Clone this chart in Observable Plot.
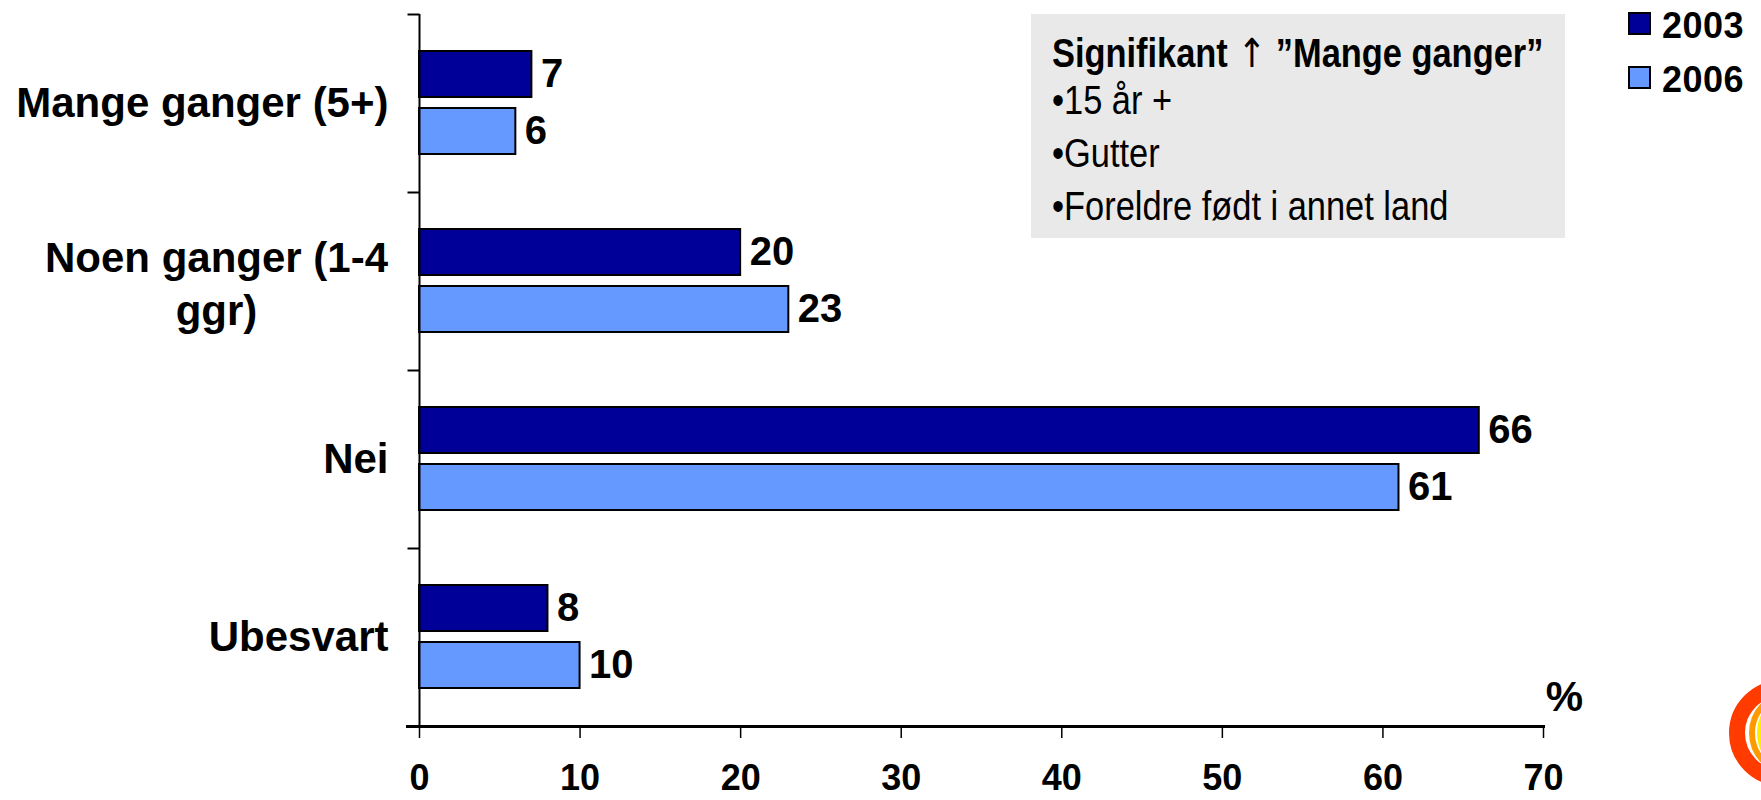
<!DOCTYPE html>
<html>
<head>
<meta charset="utf-8">
<script src="https://cdn.jsdelivr.net/npm/d3@7"></script>
<script src="https://cdn.jsdelivr.net/npm/@observablehq/plot@0.6"></script>
<style>
  html, body { margin: 0; padding: 0; background: white; }
  #wrap { position: relative; width: 1761px; height: 800px; overflow: hidden; font-family: "Liberation Sans", Arial, sans-serif; }
  #note { position: absolute; left: 1031px; top: 14px; width: 534px; height: 224px; background: #e9e9e9; }
  #note .line { position: absolute; left: 21px; font-size: 40px; line-height: 1; white-space: nowrap; transform: scaleX(0.86); transform-origin: 0 0; color: #000; }
  #note .title { font-weight: bold; }
  #note .arrow { font-weight: normal; font-family: "DejaVu Sans", sans-serif; font-size: 40px; }
  #legend { position: absolute; left: 1628px; top: 12px; }
  #legend .item { position: absolute; left: 0; white-space: nowrap; }
  #legend .sw { position: absolute; left: 0; width: 23px; height: 23px; box-sizing: border-box; border: 2px solid #000; }
  #legend .lab { position: absolute; left: 34px; font-size: 36px; font-weight: bold; letter-spacing: 0.5px; line-height: 1; }
  #logo { position: absolute; left: 1700px; top: 660px; }
</style>
</head>
<body>
<div id="wrap"></div>
<script>
// ---------- data ----------
const categories = ["Mange ganger (5+)", "Noen ganger (1-4 ggr)", "Nei", "Ubesvart"];
const categoryLabels = ["Mange ganger (5+)", "Noen ganger (1-4\nggr)", "Nei", "Ubesvart"];
const years = ["2003", "2006"];
const values2003 = [7, 20, 66, 8];
const values2006 = [6, 23, 61, 10];
const xTicks = [0, 10, 20, 30, 40, 50, 60, 70];
const yearColors = ["#000099", "#6699ff"];
const noteTitle = "Signifikant";
const noteArrow = "↑";
const noteTitleRest = "”Mange ganger”";
const noteLines = ["•15 år +", "•Gutter", "•Foreldre født i annet land"];
const unitLabel = "%";

// ---------- table ----------
const rows = categories.flatMap((c, i) => [
  {category: c, year: years[0], value: values2003[i]},
  {category: c, year: years[1], value: values2006[i]}
]);
const labelOf = new Map(categories.map((c, i) => [c, categoryLabels[i]]));
const singleLine = categories.filter(c => !labelOf.get(c).includes("\n"));
const multiLine = categories.filter(c => labelOf.get(c).includes("\n"));

// custom tick symbol: a short horizontal stroke to the left of the anchor
const tickLeft = {
  draw(context, size) {
    const r = Math.sqrt(size / Math.PI);
    context.moveTo(-r, 0);
    context.lineTo(0, 0);
  }
};

const chart = Plot.plot({
  width: 1761,
  height: 800,
  marginLeft: 419,
  marginRight: 218,
  marginTop: 12,
  marginBottom: 73,
  x: {domain: [0, 70], axis: null},
  y: {domain: years, paddingInner: 0.19, paddingOuter: 0.63, axis: null},
  fy: {domain: categories, padding: 0, axis: null},
  color: {domain: years, range: yearColors},
  style: {fontFamily: "Liberation Sans, Arial, sans-serif", color: "black", background: "white", overflow: "visible"},
  marks: [
    Plot.barX(rows, {x: "value", y: "year", fy: "category", fill: "year", stroke: "black", strokeWidth: 2}),
    Plot.ruleX([0], {stroke: "black", strokeWidth: 2}),
    Plot.dot([0], {frameAnchor: "top-left", symbol: tickLeft, r: 12, stroke: "black", strokeWidth: 2, fill: "none"}),
    Plot.text(rows, {x: "value", y: "year", fy: "category", text: d => String(d.value),
      textAnchor: "start", dx: 9, fontSize: 40, fontWeight: "bold", fill: "black"}),
    Plot.text(singleLine, {fy: d => d, text: d => labelOf.get(d), frameAnchor: "left",
      textAnchor: "end", dx: -31, fontSize: 42, fontWeight: "bold", fill: "black"}),
    Plot.text(multiLine, {fy: d => d, text: d => labelOf.get(d), frameAnchor: "left",
      textAnchor: "middle", dx: -203, lineHeight: 1.25, fontSize: 42, fontWeight: "bold", fill: "black"}),
    Plot.axisX({ticks: xTicks, tickSize: 12, tickPadding: 26, tickFormat: d => String(d), label: null,
      fontSize: 36, fontWeight: "bold", stroke: "black", strokeWidth: 1.5, fill: "black"}),
    Plot.frame({anchor: "bottom", facetAnchor: "bottom", insetLeft: -12, stroke: "black", strokeWidth: 3}),
    Plot.text([unitLabel], {fy: [categories[categories.length - 1]], text: d => d, frameAnchor: "bottom-right",
      textAnchor: "middle", lineAnchor: "bottom", dx: 21, dy: -16, fontSize: 42, fontWeight: "bold", fill: "black"})
  ]
});

const wrap = document.getElementById("wrap");
wrap.appendChild(chart);

// ---------- annotation box ----------
const note = d3.select(wrap).append("div").attr("id", "note");
const lineTops = [19, 66, 119, 172];
const t = note.append("div").attr("class", "line title").style("top", lineTops[0] + "px");
t.append("span").text(noteTitle + " ");
t.append("span").attr("class", "arrow").text(noteArrow);
t.append("span").text(" " + noteTitleRest);
noteLines.forEach((s, i) => {
  note.append("div").attr("class", "line").style("top", lineTops[i + 1] + "px").text(s);
});

// ---------- legend ----------
const legend = d3.select(wrap).append("div").attr("id", "legend");
years.forEach((y, i) => {
  const item = legend.append("div").attr("class", "item").style("top", i * 54 + "px");
  item.append("div").attr("class", "sw").style("background", yearColors[i]);
  item.append("div").attr("class", "lab").style("top", "-4px").text(y);
});

// ---------- decorative logo fragment ----------
const logo = d3.select(wrap).append("svg").attr("id", "logo").attr("width", 61).attr("height", 140);
logo.append("circle").attr("cx", 82).attr("cy", 73).attr("r", 45).attr("fill", "none").attr("stroke", "#ff3b00").attr("stroke-width", 16);
logo.append("circle").attr("cx", 92).attr("cy", 73).attr("r", 40).attr("fill", "none").attr("stroke", "#ff9900").attr("stroke-width", 6);
logo.append("circle").attr("cx", 98).attr("cy", 73).attr("r", 36).attr("fill", "none").attr("stroke", "#ffee00").attr("stroke-width", 10);
</script>
</body>
</html>
